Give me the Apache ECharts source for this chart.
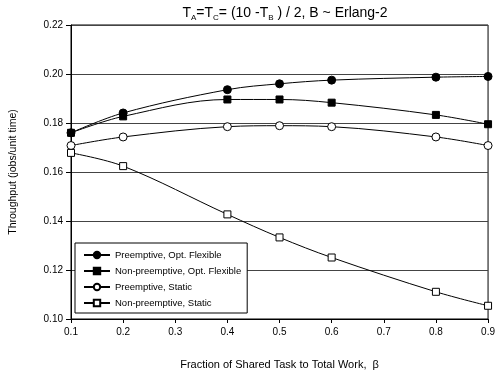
<!DOCTYPE html>
<html><head><meta charset="utf-8">
<script src="https://cdn.jsdelivr.net/npm/echarts@6/dist/echarts.min.js"></script>
<style>html,body{margin:0;padding:0;background:#fff}#c{width:498px;height:375px}</style>
</head><body><div id="c"></div>
<script>
const xValues = [0.1, 0.2, 0.4, 0.5, 0.6, 0.8, 0.9];
const seriesNames = ["Preemptive, Opt. Flexible", "Non-preemptive, Opt. Flexible", "Preemptive, Static", "Non-preemptive, Static"];
const preemptFlex = [0.176, 0.1841, 0.1936, 0.196, 0.1975, 0.1987, 0.199];
const nonPreemptFlex = [0.176, 0.1827, 0.1896, 0.1896, 0.1883, 0.1833, 0.1795];
const preemptStatic = [0.1708, 0.1743, 0.1785, 0.1789, 0.1785, 0.1743, 0.1708];
const nonPreemptStatic = [0.1678, 0.1624, 0.1427, 0.1333, 0.1251, 0.1111, 0.1054];
const xTicks = [0.1, 0.2, 0.3, 0.4, 0.5, 0.6, 0.7, 0.8, 0.9];
const yTicks = [0.10, 0.12, 0.14, 0.16, 0.18, 0.20, 0.22];

const font = "Liberation Sans, Arial, sans-serif";
const chart = echarts.init(document.getElementById('c'));
const pair = arr => xValues.map((x, i) => [x, arr[i]]);
const styles = [
  {symbol: 'circle', size: 8, fill: '#000'},
  {symbol: 'rect', size: 7, fill: '#000'},
  {symbol: 'circle', size: 8, fill: '#fff'},
  {symbol: 'rect', size: 7, fill: '#fff'}
];
const data = [preemptFlex, nonPreemptFlex, preemptStatic, nonPreemptStatic];
chart.setOption({
  animation: false,
  title: {
    text: '{n|T}{s|A}{n|=T}{s|C}{n|= (10 -T}{s|B}{n| ) / 2, B ~ Erlang-2}',
    left: 280, top: 0, textAlign: 'center',
    textStyle: {
      fontWeight: 'normal',
      rich: {
        n: {fontFamily: font, fontSize: 14, fontWeight: 'normal', color: '#000'},
        s: {fontFamily: font, fontSize: 8, fontWeight: 'normal', color: '#000', verticalAlign: 'bottom', padding: [9, 0, 0, 0]}
      }
    }
  },
  grid: {left: 71, right: 6, top: 25, bottom: 55, show: true, borderColor: '#000', borderWidth: 1},
  legend: {
    orient: 'vertical', left: 75, top: 243,
    data: seriesNames,
    backgroundColor: '#fff', borderColor: '#000', borderWidth: 1,
    padding: [7, 6, 5, 8], itemGap: 6, itemWidth: 26, itemHeight: 8,
    textStyle: {fontFamily: font, fontSize: 9.5, color: '#000'}
  },
  xAxis: {
    type: 'value', min: 0.1, max: 0.9, interval: 0.1,
    name: 'Fraction of Shared Task to Total Work,  \u03b2',
    nameLocation: 'middle', nameGap: 40,
    nameTextStyle: {fontFamily: font, fontSize: 11, color: '#000'},
    axisLine: {lineStyle: {color: '#000'}},
    axisTick: {show: true, length: 4, lineStyle: {color: '#000'}},
    axisLabel: {fontFamily: font, fontSize: 10, color: '#000', margin: 8, formatter: v => v.toFixed(1)},
    splitLine: {show: false}
  },
  yAxis: {
    type: 'value', min: 0.10, max: 0.22, interval: 0.02,
    name: 'Throughput (jobs/unit time)',
    nameLocation: 'middle', nameGap: 52,
    nameTextStyle: {fontFamily: font, fontSize: 10.5, color: '#000'},
    axisLine: {show: true, lineStyle: {color: '#000'}},
    axisTick: {show: true, length: 5, lineStyle: {color: '#000'}},
    axisLabel: {fontFamily: font, fontSize: 10, color: '#000', margin: 8, formatter: v => v.toFixed(2)},
    splitLine: {show: true, lineStyle: {color: '#444', width: 1}}
  },
  series: seriesNames.map((n, i) => ({
    name: n, type: 'line', smooth: 0.35,
    data: pair(data[i]),
    symbol: styles[i].symbol, symbolSize: styles[i].size,
    showAllSymbol: true, z: 3 + i,
    lineStyle: {color: '#000', width: 1},
    itemStyle: {color: styles[i].fill, borderColor: '#000', borderWidth: 1}
  }))
});
</script></body></html>
